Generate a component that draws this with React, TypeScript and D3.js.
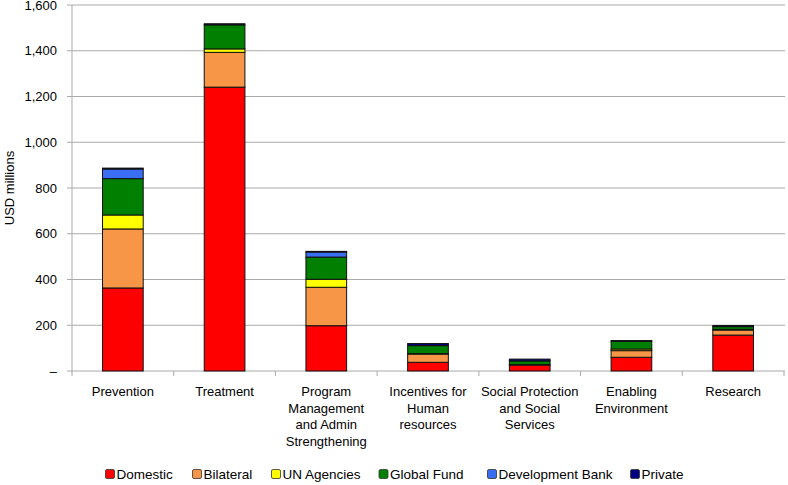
import React from "react";
import * as d3 from "d3";

const categories = [
  ["Prevention"],
  ["Treatment"],
  ["Program", "Management", "and Admin", "Strengthening"],
  ["Incentives for", "Human", "resources"],
  ["Social Protection", "and Social", "Services"],
  ["Enabling", "Environment"],
  ["Research"],
];
const seriesNames = ["Domestic", "Bilateral", "UN Agencies", "Global Fund", "Development Bank", "Private"];
const seriesColors = ["#ff0000", "#f79646", "#ffff00", "#007f00", "#3a6ff5", "#000080"];

const domestic = [363, 1241, 198, 38, 26, 60, 157];
const bilateral = [258, 152, 168, 36, 2, 29, 22];
const unAgencies = [61, 15, 35, 2, 0, 7, 3];
const globalFund = [159, 105, 97, 35, 16, 34, 12];
const devBank = [42, 0, 22, 0, 0, 0, 0];
const privateSrc = [4, 5, 3, 9, 8, 3, 5];

const yTicks = [0, 200, 400, 600, 800, 1000, 1200, 1400, 1600];

export default function App() {
  const W = 788, H = 485;
  const left = 72, right = 784, top = 5, bottom = 371;
  const x = d3.scaleBand<number>().domain(d3.range(categories.length)).range([left, right]).padding(0);
  const y = d3.scaleLinear().domain([0, 1600]).range([bottom, top]);
  const data = [domestic, bilateral, unAgencies, globalFund, devBank, privateSrc];
  const rows = categories.map((_, i) => {
    const o: any = { i };
    seriesNames.forEach((s, k) => (o[s] = data[k][i]));
    return o;
  });
  const stack = d3.stack<any>().keys(seriesNames)(rows);
  const bw = x.bandwidth() * 0.4;
  const font = "'Liberation Sans', Arial, Helvetica, sans-serif";
  const fmt = d3.format(",");
  const legendX = [110, 197, 276, 383.5, 492, 635];

  return (
    <svg width={W} height={H} style={{ position: "absolute", left: 0, top: 0, fontFamily: font }}>
      <rect width={W} height={H} fill="#fff" />
      {yTicks.map((t) => (
        <g key={t}>
          <line x1={left - 5} x2={right + 1} y1={y(t)} y2={y(t)} stroke="#aaaaaa" strokeWidth={1} />
          <text x={57} y={y(t) + 4.7} textAnchor="end" fontSize={13} fill="#000">
            {t === 0 ? "–" : fmt(t)}
          </text>
        </g>
      ))}
      <line x1={left} x2={left} y1={top} y2={bottom + 1} stroke="#aaaaaa" />
      {d3.range(categories.length + 1).map((i) => {
        const xx = i < categories.length ? x(i)! : right;
        return <line key={i} x1={xx} x2={xx} y1={bottom} y2={bottom + 5} stroke="#aaaaaa" />;
      })}
      {stack.map((layer, k) => (
        <g key={k}>
          {layer.map((d, i) => {
            const h = y(d[0]) - y(d[1]);
            if (h <= 0) return null;
            return (
              <rect
                key={i}
                x={x(i)! + (x.bandwidth() - bw) / 2}
                y={y(d[1])}
                width={bw}
                height={h}
                fill={seriesColors[k]}
                stroke="#111"
                strokeWidth={1}
              />
            );
          })}
        </g>
      ))}
      <text transform={`translate(14,${(top + bottom) / 2}) rotate(-90)`} textAnchor="middle" fontSize={13}>
        USD millions
      </text>
      {categories.map((lines, i) => (
        <text key={i} textAnchor="middle" fontSize={13} fill="#000">
          {lines.map((l, j) => (
            <tspan key={j} x={x(i)! + x.bandwidth() / 2} y={396 + j * 16.7}>
              {l}
            </tspan>
          ))}
        </text>
      ))}
      {seriesNames.map((s, k) => (
        <g key={s}>
          <rect x={legendX[k] - 4.5} y={469.5} width={9} height={9} rx={1.5} fill={seriesColors[k]} stroke="#333" strokeWidth={0.8} />
          <text x={legendX[k] + 6.5} y={478.5} fontSize={13.5}>
            {s}
          </text>
        </g>
      ))}
    </svg>
  );
}
